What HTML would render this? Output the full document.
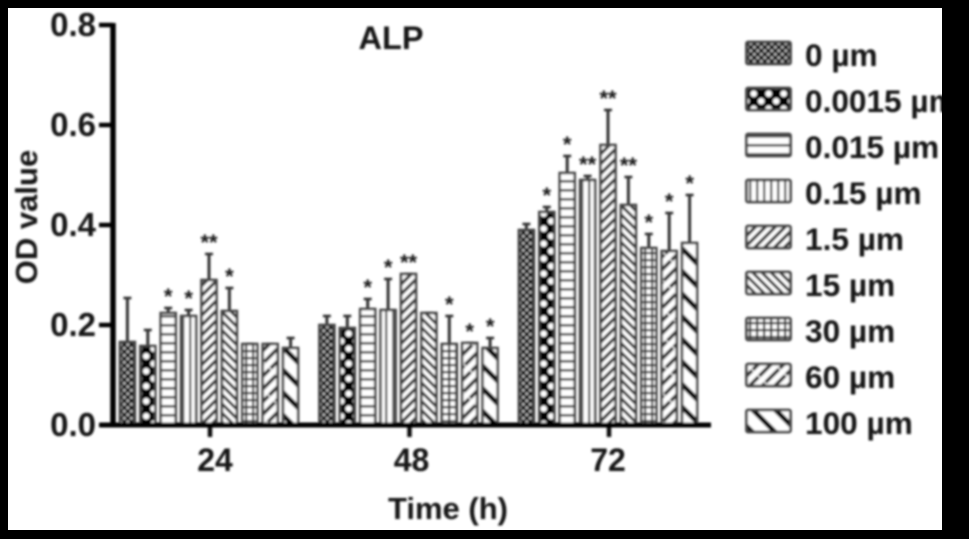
<!DOCTYPE html>
<html><head><meta charset="utf-8"><style>
html,body{margin:0;padding:0;background:#000;width:969px;height:539px;overflow:hidden}
svg{display:block}
text{font-family:"Liberation Sans",sans-serif;font-weight:bold;fill:#151515}
</style></head><body>
<svg id="chart" width="969" height="539" viewBox="0 0 969 539" xmlns="http://www.w3.org/2000/svg">
<defs>
<filter id="soft" x="-5%" y="-5%" width="110%" height="110%"><feGaussianBlur stdDeviation="1"/></filter>
<pattern id="p0" patternUnits="userSpaceOnUse" width="7" height="7"><rect width="7" height="7" fill="#111"/><circle cx="1.8" cy="1.8" r="1.5" fill="#bbb"/><circle cx="5.3" cy="5.3" r="1.5" fill="#bbb"/></pattern>
<pattern id="p1" patternUnits="userSpaceOnUse" width="15" height="15"><rect width="15" height="15" fill="#000"/><circle cx="3.7" cy="3.7" r="3.2" fill="#fff"/><circle cx="11.2" cy="11.2" r="3.2" fill="#fff"/></pattern>
<pattern id="p2" patternUnits="userSpaceOnUse" width="8" height="9"><rect width="8" height="9" fill="#fff"/><rect y="0" width="8" height="2.6" fill="#444"/></pattern>
<pattern id="p3" patternUnits="userSpaceOnUse" width="7" height="8"><rect width="7" height="8" fill="#fff"/><rect x="0" width="2.4" height="8" fill="#555"/></pattern>
<pattern id="p4" patternUnits="userSpaceOnUse" width="7" height="7" patternTransform="rotate(45)"><rect width="7" height="7" fill="#fff"/><rect width="3.2" height="7" fill="#333"/></pattern>
<pattern id="p5" patternUnits="userSpaceOnUse" width="6.5" height="6.5" patternTransform="rotate(-45)"><rect width="6.5" height="6.5" fill="#fff"/><rect width="3" height="6.5" fill="#333"/></pattern>
<pattern id="p6" patternUnits="userSpaceOnUse" width="7" height="7"><rect width="7" height="7" fill="#fff"/><rect width="2.2" height="7" fill="#333"/><rect width="7" height="2.2" fill="#333"/></pattern>
<pattern id="p7" patternUnits="userSpaceOnUse" width="9" height="20" patternTransform="rotate(45)"><rect width="9" height="20" fill="#fff"/><rect width="3.6" height="20" fill="#333"/><rect y="9" width="9" height="1.2" fill="#fff"/></pattern>
<pattern id="p8" patternUnits="userSpaceOnUse" width="16" height="16" patternTransform="rotate(-45)"><rect width="16" height="16" fill="#fff"/><rect width="5" height="16" fill="#000"/></pattern>
</defs>
<rect x="8" y="8" width="934" height="522" fill="#fff"/>
<g id="art" filter="url(#soft)"></g>
<rect x="942" y="0" width="27" height="539" fill="#000"/>
</svg>
<script>
var categories = ["24", "48", "72"];
var seriesNames = ["0 µm", "0.0015 µm", "0.015 µm", "0.15 µm", "1.5 µm", "15 µm", "30 µm", "60 µm", "100 µm"];
var meansAt24 = [0.166, 0.158, 0.224, 0.218, 0.290, 0.228, 0.162, 0.162, 0.154];
var meansAt48 = [0.200, 0.194, 0.232, 0.230, 0.302, 0.224, 0.162, 0.164, 0.154];
var meansAt72 = [0.390, 0.426, 0.504, 0.490, 0.560, 0.440, 0.354, 0.348, 0.364];
var errorTopsAt24 = [0.254, 0.190, 0.234, 0.230, 0.342, 0.274, 0.162, 0.162, 0.174];
var errorTopsAt48 = [0.218, 0.218, 0.252, 0.292, 0.302, 0.224, 0.218, 0.164, 0.174];
var errorTopsAt72 = [0.402, 0.436, 0.538, 0.498, 0.630, 0.496, 0.382, 0.424, 0.460];
var starsAt24 = ["", "", "*", "*", "**", "*", "", "", ""];
var starsAt48 = ["", "", "*", "*", "**", "", "*", "*", "*"];
var starsAt72 = ["", "*", "*", "**", "**", "**", "*", "*", "*"];
var yTicks = [0, 0.2, 0.4, 0.6, 0.8];
var yTickLabels = ["0.0", "0.2", "0.4", "0.6", "0.8"];

var NS = "http://www.w3.org/2000/svg";
var art = document.getElementById("art");
function yScale(v) { return 425 - v * 500; }
function groupCenter(g) { return 209 + g * 199.5; }
function barX(g, s) { return groupCenter(g) + (s - 4) * 20.4; }
function labelX(g) { return 215 + g * 196.5; }
function make(tag, attrs, text) {
  var el = document.createElementNS(NS, tag);
  for (var k in attrs) el.setAttribute(k, attrs[k]);
  if (text !== undefined) el.textContent = text;
  art.appendChild(el);
  return el;
}
var means = [meansAt24, meansAt48, meansAt72];
var tops = [errorTopsAt24, errorTopsAt48, errorTopsAt72];
var stars = [starsAt24, starsAt48, starsAt72];

categories.forEach(function (cat, g) {
  seriesNames.forEach(function (name, s) {
    var cx = barX(g, s);
    var err = make("line", {x1: cx, x2: cx, y1: yScale(means[g][s]), y2: yScale(tops[g][s]), stroke: "#333", "stroke-width": 3});
    
    
    var cap = make("line", {x1: cx - 4, x2: cx + 4, y1: yScale(tops[g][s]), y2: yScale(tops[g][s]), stroke: "#333", "stroke-width": 2.6});
    
    
    var bar = make("rect", {x: cx - 7.5, y: yScale(means[g][s]), width: 15, height: yScale(0) - yScale(means[g][s]), fill: "url(#p" + s + ")", stroke: "#444", "stroke-width": 2.6});
    
    
    if (stars[g][s]) {
      var st = make("text", {x: cx, y: yScale(tops[g][s]) - 4, "text-anchor": "middle", "font-size": 22}, stars[g][s]);
      
      
    }
  });
  var tick = make("line", {x1: groupCenter(g) + 1, x2: groupCenter(g) + 1, y1: 425, y2: 437, stroke: "#111", "stroke-width": 4.5});
  
  
  var lab = make("text", {x: labelX(g), y: 471, "text-anchor": "middle", "font-size": 32}, cat);
  
  
});

var yAxis = make("line", {x1: 113, x2: 113, y1: 23, y2: 427, stroke: "#000", "stroke-width": 5.5});


var xAxis = make("line", {x1: 100, x2: 711, y1: 425, y2: 425, stroke: "#000", "stroke-width": 5});



yTicks.forEach(function (v, i) {
  var t = make("line", {x1: 99, x2: 113, y1: yScale(v), y2: yScale(v), stroke: "#000", "stroke-width": 4.5});
  
  
  var l = make("text", {x: 96, y: yScale(v) + 11, "text-anchor": "end", "font-size": 33}, yTickLabels[i]);
  
  
});

seriesNames.forEach(function (name, s) {
  var cy = 53 + s * 46;
  var sw = make("rect", {x: 746.5, y: cy - 11, width: 44, height: 22, rx: 1.5, fill: "url(#p" + s + ")", stroke: "#444", "stroke-width": 2.8});
  
  
  var tx = make("text", {x: 805, y: cy + 13, "font-size": 31.6}, name);
  
  
});

var title = make("text", {x: 391, y: 49, "text-anchor": "middle", "font-size": 32.5}, "ALP");


var xTitle = make("text", {x: 448, y: 519, "text-anchor": "middle", "font-size": 31}, "Time (h)");


var yTitle = make("text", {x: 0, y: 0, "text-anchor": "middle", "font-size": 31, transform: "translate(37 217) rotate(-90)"}, "OD value");


</script>
</body></html>
